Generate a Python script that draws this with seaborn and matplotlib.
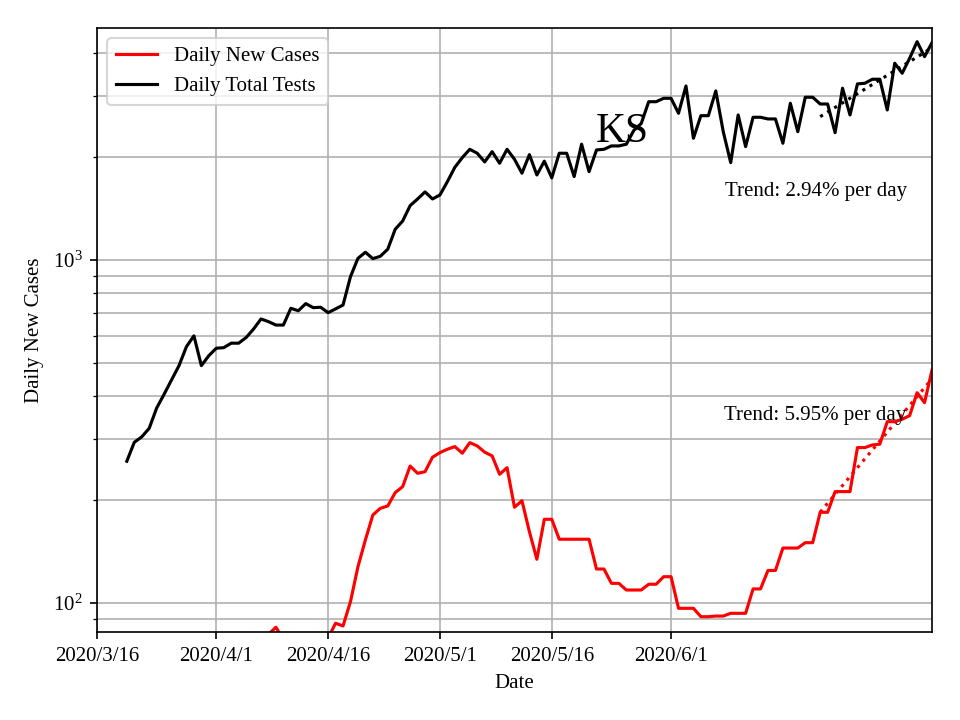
import numpy as np
import pandas as pd
import matplotlib
matplotlib.use("Agg")
import matplotlib.pyplot as plt
import seaborn as sns

# ---- data ----
start_date = "2020-03-20"
tests = [259, 294, 305, 323, 370, 406, 447, 492, 559, 601,
         492, 526, 553, 555, 572, 572, 594, 629, 673, 661,
         646, 646, 723, 711, 746, 726, 728, 702, 720, 739,
         894, 1011, 1053, 1009, 1025, 1075, 1229, 1299, 1440, 1506,
         1579, 1506, 1547, 1692, 1863, 1988, 2102, 2047, 1931, 2069,
         1914, 2102, 1966, 1790, 2028, 1769, 1941, 1735, 2047, 2047,
         1750, 2175, 1809, 2093, 2102, 2150, 2150, 2175, 2386, 2500,
         2893, 2893, 2960, 2960, 2677, 3216, 2264, 2634, 2634, 3110,
         2366, 1922, 2647, 2140, 2606, 2606, 2577, 2577, 2189, 2863,
         2366, 2981, 2981, 2849, 2849, 2350, 3167, 2647, 3260, 3275,
         3364, 3364, 2737, 3746, 3502, 3873, 4329, 3914, 4300]
cases = [20, 24, 28, 32, 36, 40, 45, 50, 55, 60,
         64, 68, 71, 74, 76, 77, 78, 78, 78, 81,
         85, 78, 72, 70, 68, 70, 74, 79, 87.3, 85.7,
         100.9, 127.5, 152.7, 180.5, 188.8, 191.8, 209.8, 218.4, 250.8, 238.8,
         241.4, 266, 274.4, 280.7, 285.7, 273.3, 293.4, 287, 275.2, 268.4,
         237.2, 248, 190.1, 198.7, 161.4, 134.1, 175.4, 175.4, 153.4, 153.4,
         153.4, 153.4, 153.4, 125.6, 125.6, 114.1, 114.1, 109.1, 109.1, 109.1,
         113.4, 113.4, 119.3, 119.3, 96.5, 96.5, 96.5, 91.2, 91.2, 91.6,
         91.6, 93.3, 93.3, 93.3, 109.9, 109.9, 124.4, 124.4, 144.6, 144.6,
         144.6, 149.9, 149.9, 183.8, 183.8, 211.2, 211.2, 211.2, 283.8, 283.8,
         288.9, 290.3, 337.8, 337.8, 343.3, 351.7, 410.3, 383.7, 477.6]
tick_dates = ["2020-03-16", "2020-04-01", "2020-04-16", "2020-05-01", "2020-05-16", "2020-06-01"]
tick_labels = ["2020/3/16", "2020/4/1", "2020/4/16", "2020/5/1", "2020/5/16", "2020/6/1"]
trend_window = 16
trend_texts = ["Trend: 2.94% per day", "Trend: 5.95% per day"]
title = "KS"

dates = pd.date_range(start_date, periods=len(tests), freq="D")
df = pd.DataFrame({"date": dates, "tests": tests, "cases": cases})

plt.rcParams["font.family"] = ["Liberation Serif", "DejaVu Serif"]
plt.rcParams["mathtext.fontset"] = "stix"
plt.rcParams["font.size"] = 10

fig = plt.figure(figsize=(6.4, 4.8), dpi=150)
ax = fig.add_axes([97 / 960, 88 / 720, 835 / 960, 604 / 720])

sns.lineplot(data=df, x="date", y="cases", color="red", lw=1.5, label="Daily New Cases", ax=ax)
sns.lineplot(data=df, x="date", y="tests", color="black", lw=1.5, label="Daily Total Tests", ax=ax)

# trend lines: log-linear fit over the final window
tail = df.iloc[-trend_window:].copy()
t = np.arange(len(tail))
for col, c in [("tests", "black"), ("cases", "red")]:
    k, b = np.polyfit(t, np.log(tail[col].values), 1)
    tail[col + "_fit"] = np.exp(b + k * t)
    sns.lineplot(data=tail, x="date", y=col + "_fit", color=c, lw=1.5, ls=":", ax=ax, legend=False)

ax.set_yscale("log")
ax.set_ylim(82.3, 4745)
ax.set_xlim(pd.Timestamp("2020-03-16"), dates[-1])
ax.set_xticks(pd.to_datetime(tick_dates))
ax.set_xticklabels(tick_labels)
ax.grid(True, which="major", axis="x", color="#b0b0b0", lw=0.8)
ax.grid(True, which="both", axis="y", color="#b0b0b0", lw=0.8)
ax.set_axisbelow(True)
ax.set_xlabel("Date")
ax.set_ylabel("Daily New Cases")

ax.text(0.629, 0.828, title, transform=ax.transAxes, fontsize=20, ha="center", va="center")
ax.text(0.752, 0.7285, trend_texts[0], transform=ax.transAxes, ha="left", va="center")
ax.text(0.751, 0.359, trend_texts[1], transform=ax.transAxes, ha="left", va="center")

ax.legend(loc="upper left")
for s in ax.spines.values():
    s.set_color("black")

fig.savefig("out.png", dpi=150)
